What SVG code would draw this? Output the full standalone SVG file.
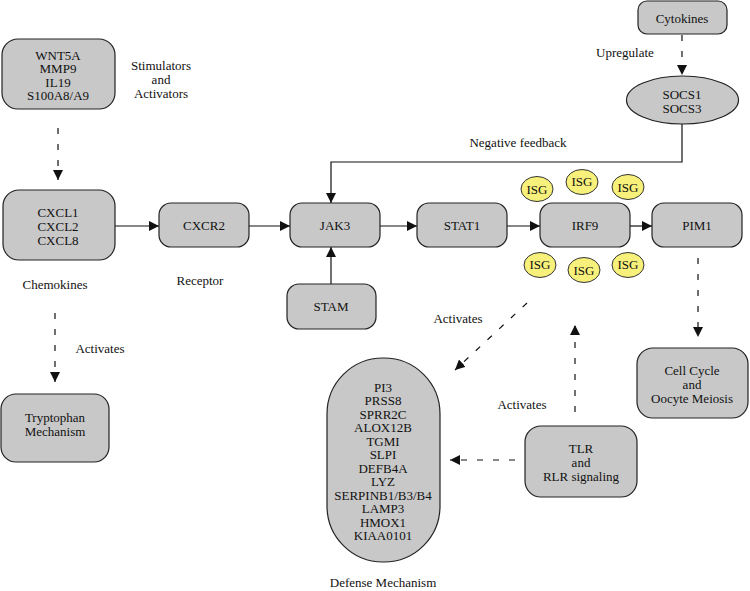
<svg xmlns="http://www.w3.org/2000/svg" width="750" height="591" viewBox="0 0 750 591">
<defs>
<style>
.box{fill:#c8c8c8;stroke:#222;stroke-width:1.2}
.isg{fill:#f7f07a;stroke:#333;stroke-width:1}
.t text{font-size:13px;fill:#111;text-anchor:middle;dominant-baseline:central}
.c{stroke:#111;stroke-width:1.2;fill:none}
.d{stroke:#111;stroke-width:1.2;fill:none;stroke-dasharray:6 10}
</style>
<marker id="ah" viewBox="0 0 10 10" refX="10" refY="5" markerWidth="10" markerHeight="10" markerUnits="userSpaceOnUse" orient="auto">
<path d="M0,0 L10,5 L0,10 z" fill="#111"/>
</marker>
</defs>
<rect width="750" height="591" fill="#fff"/>

<g id="connectors">
<path class="d" d="M58,128 V180" marker-end="url(#ah)"/>
<path class="c" d="M115,226 H159" marker-end="url(#ah)"/>
<path class="c" d="M249,226 H290" marker-end="url(#ah)"/>
<path class="c" d="M380,226 H417" marker-end="url(#ah)"/>
<path class="c" d="M507,226 H540" marker-end="url(#ah)"/>
<path class="c" d="M630,226 H652" marker-end="url(#ah)"/>
<path class="c" d="M331,284 V247" marker-end="url(#ah)"/>
<path class="c" d="M682,123 V162 H331 V203" marker-end="url(#ah)"/>
<path class="d" d="M682,35 V75" marker-end="url(#ah)"/>
<path class="d" d="M55,313 V382" marker-end="url(#ah)"/>
<path class="d" d="M698,258 V337" marker-end="url(#ah)"/>
<path class="d" d="M527,303 L455,370" marker-end="url(#ah)"/>
<path class="d" d="M575,412 V325" marker-end="url(#ah)"/>
<path class="d" d="M515,460 H450" marker-end="url(#ah)"/>
</g>

<g class="t" font-family="'Liberation Serif', 'DejaVu Serif', serif">
<g id="n-wnt5a">
<rect class="box" x="2" y="39" width="113" height="70" rx="16"/>
<text x="58" y="55">WNT5A</text>
<text x="58" y="68.5">MMP9</text>
<text x="58" y="82">IL19</text>
<text x="58" y="95.5">S100A8/A9</text>
</g>
<text x="161" y="65">Stimulators</text>
<text x="161" y="79">and</text>
<text x="161" y="93">Activators</text>

<g id="n-cxcl">
<rect class="box" x="3" y="190" width="112" height="70" rx="16"/>
<text x="58" y="212">CXCL1</text>
<text x="58" y="226">CXCL2</text>
<text x="58" y="240">CXCL8</text>
</g>
<text x="55" y="284">Chemokines</text>

<g id="n-cxcr2">
<rect class="box" x="159" y="203" width="90" height="44" rx="12"/>
<text x="204" y="225">CXCR2</text>
</g>
<text x="200" y="280">Receptor</text>

<g id="n-jak3">
<rect class="box" x="290" y="203" width="90" height="44" rx="12"/>
<text x="335" y="225">JAK3</text>
</g>

<g id="n-stat1">
<rect class="box" x="417" y="203" width="90" height="44" rx="12"/>
<text x="462" y="225">STAT1</text>
</g>

<g id="n-irf9">
<rect class="box" x="540" y="203" width="90" height="44" rx="12"/>
<text x="585" y="225">IRF9</text>
</g>

<g id="n-pim1">
<rect class="box" x="652" y="203" width="90" height="44" rx="12"/>
<text x="697" y="225">PIM1</text>
</g>

<g id="n-stam">
<rect class="box" x="287" y="284" width="89" height="45" rx="12"/>
<text x="331" y="306">STAM</text>
</g>

<g id="n-cytokines">
<rect class="box" x="638" y="1" width="89" height="33" rx="9"/>
<text x="682" y="18">Cytokines</text>
</g>
<text x="625" y="52">Upregulate</text>

<g id="n-socs">
<ellipse class="box" cx="682.5" cy="100" rx="56" ry="24"/>
<text x="682" y="94">SOCS1</text>
<text x="682" y="108">SOCS3</text>
</g>
<text x="518" y="142">Negative feedback</text>

<g id="n-isg">
<ellipse class="isg" cx="537" cy="189" rx="16" ry="12.5"/><text x="537" y="189" font-size="12">ISG</text>
<ellipse class="isg" cx="582" cy="182" rx="16" ry="12.5"/><text x="582" y="181" font-size="12">ISG</text>
<ellipse class="isg" cx="628" cy="187" rx="16" ry="12.5"/><text x="628" y="187" font-size="12">ISG</text>
<ellipse class="isg" cx="540" cy="265" rx="16" ry="12.5"/><text x="540" y="264" font-size="12">ISG</text>
<ellipse class="isg" cx="584" cy="270" rx="16" ry="12.5"/><text x="584" y="270" font-size="12">ISG</text>
<ellipse class="isg" cx="628" cy="265" rx="16" ry="12.5"/><text x="628" y="264" font-size="12">ISG</text>
</g>

<text x="100" y="348">Activates</text>
<g id="n-tryptophan">
<rect class="box" x="1" y="394" width="108" height="68" rx="15"/>
<text x="55" y="417">Tryptophan</text>
<text x="55" y="431">Mechanism</text>
</g>

<text x="458" y="318">Activates</text>
<text x="522" y="404">Activates</text>

<g id="n-cellcycle">
<rect class="box" x="637" y="348" width="111" height="70" rx="16"/>
<text x="692" y="370">Cell Cycle</text>
<text x="692" y="384">and</text>
<text x="692" y="398">Oocyte Meiosis</text>
</g>

<g id="n-tlr">
<rect class="box" x="525" y="426" width="112" height="71" rx="16"/>
<text x="581" y="448">TLR</text>
<text x="581" y="462">and</text>
<text x="581" y="476">RLR signaling</text>
</g>

<g id="n-defense">
<rect class="box" x="327" y="358" width="113" height="204" rx="56"/>
<text x="383" y="387">PI3</text>
<text x="383" y="400.5">PRSS8</text>
<text x="383" y="414">SPRR2C</text>
<text x="383" y="427.5">ALOX12B</text>
<text x="383" y="441">TGMI</text>
<text x="383" y="454.5">SLPI</text>
<text x="383" y="468">DEFB4A</text>
<text x="383" y="481.5">LYZ</text>
<text x="383" y="495">SERPINB1/B3/B4</text>
<text x="383" y="508.5">LAMP3</text>
<text x="383" y="522">HMOX1</text>
<text x="383" y="535.5">KIAA0101</text>
</g>
<text x="383" y="582">Defense Mechanism</text>
</g>
</svg>
